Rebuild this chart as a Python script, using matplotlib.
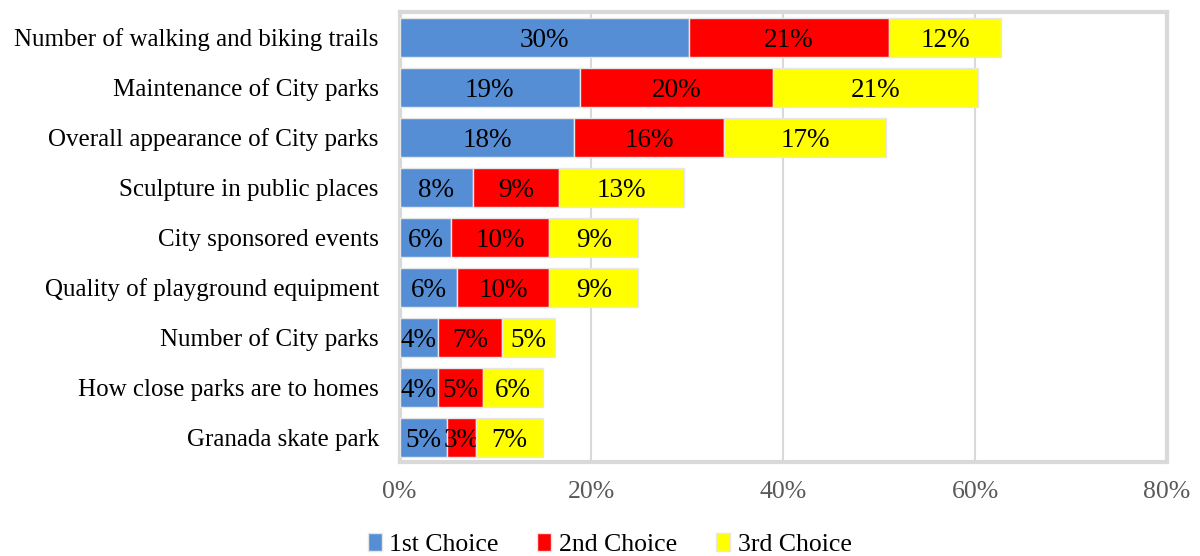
import numpy as np
import matplotlib.pyplot as plt

categories = [
    "Number of walking and biking trails",
    "Maintenance of City parks",
    "Overall appearance of City parks",
    "Sculpture in public places",
    "City sponsored events",
    "Quality of playground equipment",
    "Number of City parks",
    "How close parks are to homes",
    "Granada skate park",
]
series_names = ["1st Choice", "2nd Choice", "3rd Choice"]

first = [30.2, 18.8, 18.2, 7.6, 5.4, 6.0, 4.0, 4.0, 4.9]
second = [20.8, 20.1, 15.6, 9.0, 10.2, 9.6, 6.7, 4.7, 3.1]
third = [11.7, 21.4, 16.9, 13.1, 9.3, 9.3, 5.5, 6.3, 6.9]

first_labels = ["30%", "19%", "18%", "8%", "6%", "6%", "4%", "4%", "5%"]
second_labels = ["21%", "20%", "16%", "9%", "10%", "10%", "7%", "5%", "3%"]
third_labels = ["12%", "21%", "17%", "13%", "9%", "9%", "5%", "6%", "7%"]

xticks = [0, 20, 40, 60, 80]
xtick_labels = ["0%", "20%", "40%", "60%", "80%"]

colors = ["#558ed5", "#ff0000", "#ffff00"]
grey = "#d9d9d9"

plt.rcParams['font.family'] = ['Liberation Serif', 'DejaVu Serif']

fig = plt.figure(figsize=(12, 5.56), dpi=100)
ax = fig.add_axes([0.333, 0.169, 0.6395, 0.809])

y = np.arange(len(categories))
left = np.zeros(len(categories))
for vals, labels, col, name in zip([first, second, third],
                                   [first_labels, second_labels, third_labels],
                                   colors, series_names):
    vals = np.array(vals)
    bars = ax.barh(y, vals, left=left, height=0.78, color=col,
                   edgecolor="#e6e6e6", linewidth=1.0, label=name, zorder=3)
    texts = ax.bar_label(bars, labels=labels, label_type='center',
                         fontsize=19.5, color='black')
    for t in texts:
        t.set_verticalalignment('center_baseline')
    left += vals

ax.set_xlim(0, 80)
ax.set_ylim(len(categories) - 0.5, -0.5)
ax.set_yticks(y)
ax.set_yticklabels(categories, fontsize=18)
ax.set_xticks(xticks)
ax.set_xticklabels(xtick_labels, fontsize=18.5, color="#595959")
ax.tick_params(axis='both', length=0)
ax.tick_params(axis='x', pad=14)
ax.tick_params(axis='y', pad=15)
ax.grid(axis='x', color=grey, linewidth=1.5, zorder=0)
for s in ax.spines.values():
    s.set_color(grey)
    s.set_linewidth(3)

fig.legend(loc='center', bbox_to_anchor=(0.508, 0.02), ncol=3,
           frameon=False, fontsize=18.5, handlelength=0.55, handleheight=0.7,
           handletextpad=0.3, columnspacing=1.5)

fig.savefig("out.png", dpi=100)
